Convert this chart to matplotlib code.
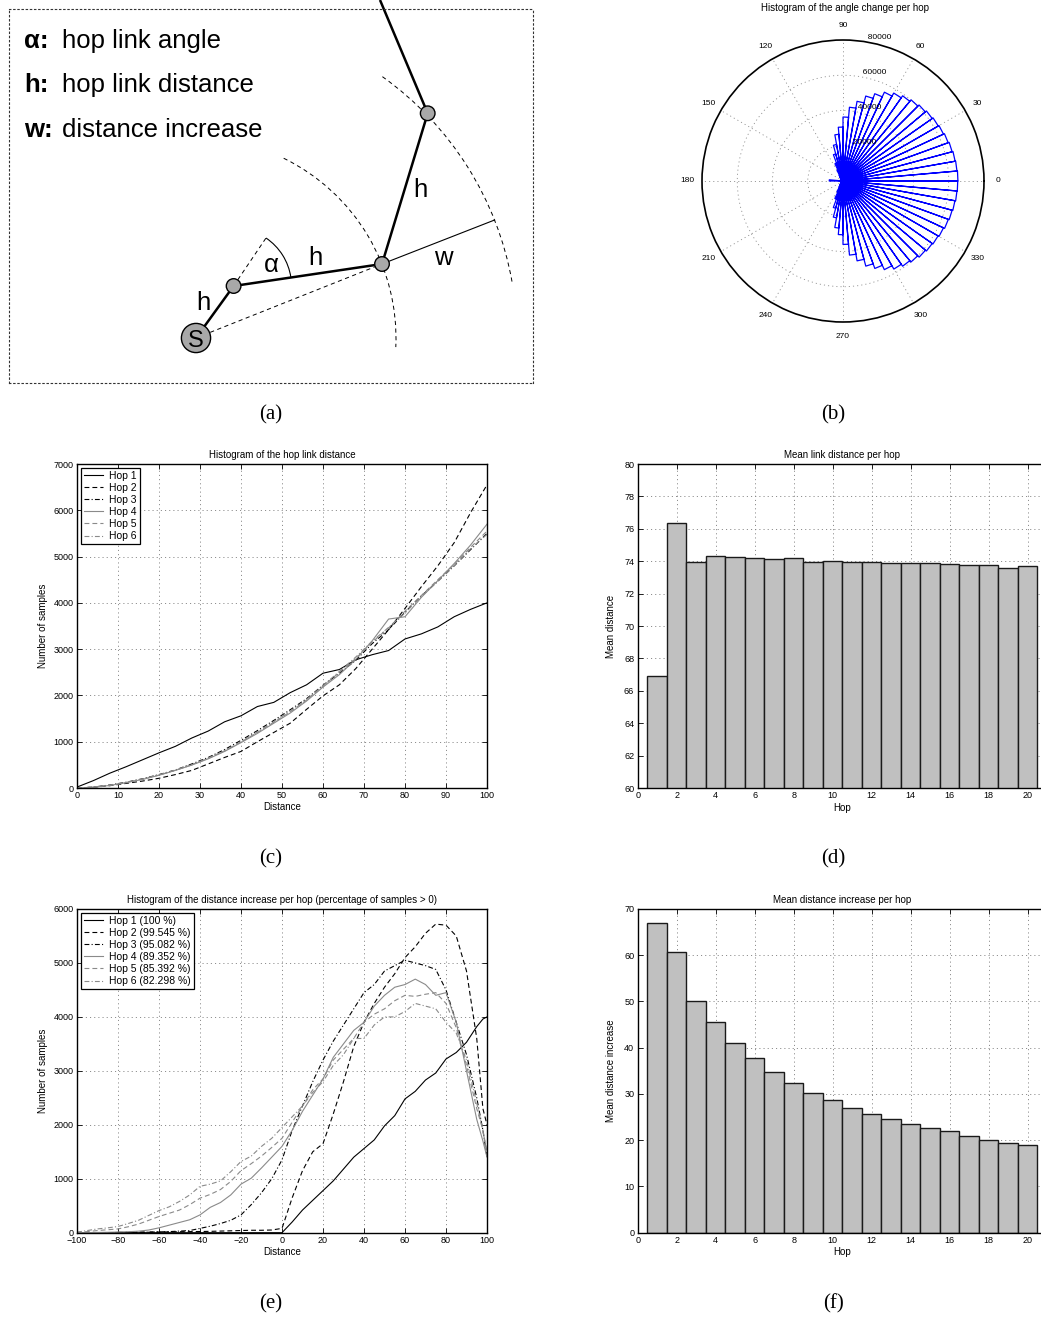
import matplotlib
matplotlib.use('Agg')
import matplotlib.pyplot as plt
import numpy as np
from matplotlib.patches import Circle, Arc

plt.rcParams['font.family'] = ['Liberation Sans', 'DejaVu Sans']
plt.rcParams['lines.scale_dashes'] = False

# ---------------- data ----------------
# (a) sketch geometry, in pixels of the sketch box
NODE_X = [196, 233.6, 382, 427.7]      # S, hop1, hop2, hop3
NODE_Y = [338, 286, 264, 113.3]
NODE_R = [14.6, 7.3, 7.3, 7.3]
LINK_EXIT = (380, 0)                   # last link leaves the box at the top
ALPHA_TIP = (266, 238)                 # end of the dashed prolongation at hop1
W_TIP = (494.6, 220)                   # end of the distance increase line
RING_R = [200, 321]                    # dashed rings around S
RING_SPAN = [(-64, 2.6), (-54.5, -9.9)]
LEGEND_KEYS = ['α:', 'h:', 'w:']
LEGEND_TEXT = ['hop link angle', 'hop link distance', 'distance increase']
LEGEND_BASE = [48, 92, 137]
LABELS = ['h', 'α', 'h', 'h', 'w']
LABEL_X = [203, 271, 315, 420, 443]
LABEL_Y = [310, 272, 265, 197, 265]

# (b) rose histogram, 72 bins of 5 degrees starting at 0
ROSE_COUNTS = [65200, 64900, 64600, 64100, 63500, 62900, 62400, 61800, 61000, 60100,
               59000, 57600, 55600, 52700, 49900, 45900, 42000, 36300, 30600, 26600,
               21000, 15900, 10800, 6800, 4000, 2800, 2000, 1600, 1300, 1100,
               1000, 1000, 1100, 1300, 1800, 7800,
               1800, 1300, 1100, 1000, 1000, 1000, 1100, 1300, 1600, 2000,
               2800, 4100, 6900, 10900, 16000, 21200, 26800, 30500, 36000, 42200,
               46000, 50000, 52800, 55500, 57700, 59000, 60000, 61100, 61800, 62300,
               62900, 63600, 64100, 64500, 64900, 65100]

# (c) histogram of the hop link distance
DIST_C = [0, 4, 8, 12, 16, 20, 24, 28, 32, 36, 40, 44, 48, 52, 56, 60, 64, 68, 72, 76,
          80, 84, 88, 92, 96, 100]
LINK_H1 = [20, 160, 320, 460, 610, 760, 900, 1080, 1230, 1430, 1560, 1760, 1850, 2060,
           2230, 2480, 2560, 2770, 2880, 2970, 3220, 3330, 3480, 3700, 3860, 4000]
LINK_H2 = [0, 15, 50, 100, 150, 210, 290, 380, 520, 660, 790, 1000, 1200, 1400, 1700,
           1990, 2230, 2580, 3000, 3420, 3880, 4350, 4800, 5300, 5950, 6550]
LINK_H3 = [0, 20, 65, 125, 200, 290, 390, 520, 660, 830, 1030, 1240, 1460, 1690, 1930,
           2220, 2480, 2760, 3120, 3420, 3800, 4150, 4470, 4800, 5150, 5500]
LINK_H4 = [0, 15, 55, 115, 185, 275, 380, 495, 630, 790, 980, 1180, 1400, 1620, 1880,
           2180, 2450, 2780, 3180, 3650, 3700, 4120, 4480, 4850, 5250, 5700]
LINK_H5 = [0, 18, 58, 118, 190, 280, 385, 505, 645, 805, 995, 1200, 1420, 1645, 1900,
           2200, 2500, 2800, 3150, 3460, 3820, 4160, 4500, 4830, 5200, 5550]
LINK_H6 = [0, 17, 60, 120, 195, 285, 385, 500, 640, 800, 1000, 1210, 1430, 1660, 1910,
           2210, 2520, 2830, 3170, 3470, 3780, 4140, 4460, 4800, 5170, 5480]
LINK_NAMES = ['Hop 1', 'Hop 2', 'Hop 3', 'Hop 4', 'Hop 5', 'Hop 6']

# (d) mean link distance per hop
HOPS = [1, 2, 3, 4, 5, 6, 7, 8, 9, 10, 11, 12, 13, 14, 15, 16, 17, 18, 19, 20]
MEAN_LINK = [66.9, 76.33, 73.94, 74.3, 74.25, 74.18, 74.12, 74.18, 73.94, 74.02,
             73.94, 73.92, 73.86, 73.88, 73.88, 73.81, 73.77, 73.79, 73.61, 73.69]

# (e) histogram of the distance increase per hop
DIST_E = [-100, -95, -90, -85, -80, -75, -70, -65, -60, -55, -50, -45, -40, -35, -30,
          -25, -20, -15, -10, -5, 0, 5, 10, 15, 20, 25, 30, 35, 40, 45, 50, 55, 60,
          65, 70, 75, 80, 85, 90, 95, 98, 100]
INC_H1 = [0, 0, 0, 0, 0, 0, 0, 0, 0, 0, 0, 0, 0, 0, 0, 0, 0, 0, 0, 0,
          0, 200, 420, 600, 780, 960, 1180, 1400, 1560, 1720, 1980, 2170, 2480, 2620,
          2830, 2960, 3220, 3340, 3530, 3820, 3960, 4000]
INC_H2 = [0, 0, 0, 0, 5, 5, 8, 10, 12, 15, 18, 20, 22, 25, 30, 35, 40, 45, 45, 50,
          80, 650, 1150, 1500, 1650, 2200, 2800, 3450, 3900, 4250, 4550, 4800, 5100,
          5300, 5550, 5720, 5700, 5500, 4850, 3600, 2300, 2000]
INC_H3 = [0, 0, 0, 0, 5, 8, 10, 12, 15, 20, 30, 40, 80, 120, 170, 230, 330, 520, 740,
          1000, 1350, 1900, 2350, 2800, 3200, 3550, 3850, 4150, 4450, 4600, 4850, 4950,
          5050, 5000, 4950, 4880, 4500, 3900, 3300, 2500, 1900, 1400]
INC_H4 = [0, 2, 5, 8, 12, 18, 28, 50, 90, 140, 190, 240, 330, 470, 560, 700, 900, 1010,
          1200, 1400, 1600, 1900, 2250, 2550, 2850, 3250, 3500, 3750, 3900, 4200, 4400,
          4550, 4600, 4700, 4600, 4400, 4450, 3900, 3000, 2100, 1700, 1400]
INC_H5 = [5, 20, 40, 55, 70, 110, 160, 230, 300, 360, 420, 520, 640, 710, 800, 950, 1150,
          1280, 1420, 1580, 1750, 2050, 2350, 2650, 2850, 3200, 3400, 3600, 3900, 4050,
          4150, 4300, 4400, 4380, 4420, 4450, 4250, 3800, 3100, 2300, 1900, 1500]
INC_H6 = [10, 40, 70, 90, 115, 170, 230, 320, 410, 480, 580, 700, 860, 900, 960, 1130,
          1320, 1420, 1600, 1750, 1950, 2150, 2350, 2600, 2800, 3100, 3300, 3600, 3600,
          3850, 4000, 4000, 4100, 4250, 4200, 4150, 3900, 3700, 3200, 2400, 1900, 1450]
INC_NAMES = ['Hop 1 (100 %)', 'Hop 2 (99.545 %)', 'Hop 3 (95.082 %)',
             'Hop 4 (89.352 %)', 'Hop 5 (85.392 %)', 'Hop 6 (82.298 %)']

# (f) mean distance increase per hop
MEAN_INC = [66.9, 60.7, 50.2, 45.5, 41.1, 37.7, 34.65, 32.3, 30.2, 28.6,
            26.9, 25.6, 24.5, 23.5, 22.6, 21.9, 21.0, 20.15, 19.5, 18.9]

# ---------------- styles ----------------
GRAY = '#8a8a8a'
STYLES = [dict(color='black', ls='-'),
          dict(color='black', ls=(0, (3.5, 2.2))),
          dict(color='black', ls=(0, (3.5, 1.6, 0.8, 1.6))),
          dict(color=GRAY, ls='-'),
          dict(color=GRAY, ls=(0, (3.5, 2.2))),
          dict(color=GRAY, ls=(0, (3.5, 1.6, 0.8, 1.6)))]
GRID_LS = (0, (0.8, 2.2))

W, H = 1041, 1319
fig = plt.figure(figsize=(W / 100, H / 100), dpi=100)


def px_box(left, top, right, bottom):
    return [left / W, 1 - bottom / H, (right - left) / W, (bottom - top) / H]


def matlab_axes(ax, right=True):
    ax.tick_params(direction='in', top=True, right=right, length=3.5, width=0.6,
                   labelsize=6.5, pad=2.5)
    for s in ax.spines.values():
        s.set_linewidth(1.0)
    ax.grid(True, color='#7a7a7a', ls=GRID_LS, lw=0.6)


def matlab_legend(ax):
    leg = ax.legend(loc='upper left', fontsize=7.5, fancybox=False, framealpha=1,
                    borderaxespad=0.35, handlelength=1.85, labelspacing=0.2,
                    borderpad=0.3, handletextpad=0.55)
    leg.get_frame().set_edgecolor('black')
    leg.get_frame().set_linewidth(0.9)


# ---------------- (a) sketch ----------------
ax = fig.add_axes(px_box(9, 9, 533, 383))
ax.set_xlim(9, 533)
ax.set_ylim(383, 9)
ax.set_xticks([])
ax.set_yticks([])
for s in ax.spines.values():
    s.set_linestyle((0, (1, 2)))
    s.set_linewidth(0.8)
    s.set_color('#333333')

dash = (0, (3, 2.5))
# dashed rings around the source
for rr, (t1, t2) in zip(RING_R, RING_SPAN):
    ax.add_patch(Arc((NODE_X[0], NODE_Y[0]), 2 * rr, 2 * rr, theta1=t1, theta2=t2,
                     lw=0.7, ls=dash, color='black'))
# dashed helper lines
ax.plot([NODE_X[0], NODE_X[2]], [NODE_Y[0], NODE_Y[2]], color='black', lw=0.7, ls=dash)
ax.plot([NODE_X[1], ALPHA_TIP[0]], [NODE_Y[1], ALPHA_TIP[1]], color='black', lw=0.7, ls=dash)
# angle arc
a1 = np.degrees(np.arctan2(ALPHA_TIP[1] - NODE_Y[1], ALPHA_TIP[0] - NODE_X[1]))
a2 = np.degrees(np.arctan2(NODE_Y[2] - NODE_Y[1], NODE_X[2] - NODE_X[1]))
ra = np.hypot(ALPHA_TIP[0] - NODE_X[1], ALPHA_TIP[1] - NODE_Y[1])
ax.add_patch(Arc((NODE_X[1], NODE_Y[1]), 2 * ra, 2 * ra, theta1=a1, theta2=a2,
                 lw=0.8, color='black'))
# distance increase line
ax.plot([NODE_X[2], W_TIP[0]], [NODE_Y[2], W_TIP[1]], color='black', lw=0.8)
# hop links
ax.plot(NODE_X + [LINK_EXIT[0]], NODE_Y + [LINK_EXIT[1]], color='black', lw=1.8,
        clip_on=False, solid_capstyle='butt')
for x, y, r in zip(NODE_X, NODE_Y, NODE_R):
    ax.add_patch(Circle((x, y), r, facecolor='#a8a8a8', edgecolor='black', lw=1.0, zorder=5))
ax.text(NODE_X[0], NODE_Y[0] + 9, 'S', fontsize=17, ha='center', va='baseline', zorder=6)
for t, x, y in zip(LABELS, LABEL_X, LABEL_Y):
    ax.text(x, y, t, fontsize=18.5, ha='center', va='baseline')
for k, t, y in zip(LEGEND_KEYS, LEGEND_TEXT, LEGEND_BASE):
    ax.text(24, y, k, fontsize=18.5, fontweight='bold', va='baseline')
    ax.text(62, y, t, fontsize=18.5, va='baseline')

# ---------------- (b) rose ----------------
axp = fig.add_axes(px_box(702, 40, 984, 322), projection='polar')
edges = np.deg2rad(np.arange(0, 361, 5))
th, rr = [], []
for k, c in enumerate(ROSE_COUNTS):
    th += [edges[k], edges[k], edges[k + 1], edges[k + 1]]
    rr += [0, c, c, 0]
axp.plot(th, rr, color='blue', lw=0.9)
axp.set_ylim(0, 80000)
axp.set_xticks(np.deg2rad(np.arange(0, 360, 30)))
axp.set_xticklabels([])
axp.set_yticks([20000, 40000, 60000])
axp.set_yticklabels([])
axp.grid(True, color='#8a8a8a', ls=GRID_LS, lw=0.6)
axp.spines['polar'].set_linewidth(1.2)
for a in range(0, 360, 30):
    axp.text(np.deg2rad(a), 88000, str(a), fontsize=6, ha='center', va='center')
for v in [20000, 40000, 60000, 80000]:
    axp.text(np.deg2rad(82), v, '  %d' % v, fontsize=6, ha='left', va='bottom')
fig.text(845 / W, 1 - 8 / H, 'Histogram of the angle change per hop', fontsize=7,
         ha='center', va='center')

# ---------------- (c) link distance histogram ----------------
axc = fig.add_axes(px_box(77, 464, 487, 788))
for vals, name, st in zip([LINK_H1, LINK_H2, LINK_H3, LINK_H4, LINK_H5, LINK_H6],
                          LINK_NAMES, STYLES):
    axc.plot(DIST_C, vals, lw=0.8, label=name, **st)
axc.set_xlim(0, 100)
axc.set_ylim(0, 7000)
axc.set_xticks(range(0, 101, 10))
axc.set_yticks(range(0, 7001, 1000))
matlab_axes(axc)
axc.set_title('Histogram of the hop link distance', fontsize=7, pad=4)
axc.set_xlabel('Distance', fontsize=7, labelpad=1)
axc.set_ylabel('Number of samples', fontsize=7, labelpad=4)
matlab_legend(axc)

# ---------------- (d) mean link distance ----------------
axd = fig.add_axes(px_box(637.7, 464, 1041, 788))
axd.bar(HOPS, MEAN_LINK, width=1.0, color='#c0c0c0', edgecolor='#1a1a1a', lw=1.0)
axd.set_axisbelow(True)
axd.set_xlim(0, 20.68)
axd.set_ylim(60, 80)
axd.set_xticks(range(0, 21, 2))
axd.set_yticks(range(60, 81, 2))
matlab_axes(axd, right=False)
axd.spines['right'].set_visible(False)
axd.set_title('Mean link distance per hop', fontsize=7, pad=4, x=0.507)
axd.set_xlabel('Hop', fontsize=7, labelpad=1)
axd.xaxis.set_label_coords(0.507, -0.045)
axd.set_ylabel('Mean distance', fontsize=7, labelpad=6)

# ---------------- (e) distance increase histogram ----------------
axe = fig.add_axes(px_box(77, 909, 487, 1232.7))
for vals, name, st in zip([INC_H1, INC_H2, INC_H3, INC_H4, INC_H5, INC_H6],
                          INC_NAMES, STYLES):
    axe.plot(DIST_E, vals, lw=0.8, label=name, **st)
axe.set_xlim(-100, 100)
axe.set_ylim(0, 6000)
axe.set_xticks(range(-100, 101, 20))
axe.set_yticks(range(0, 6001, 1000))
matlab_axes(axe)
axe.set_title('Histogram of the distance increase per hop (percentage of samples > 0)',
              fontsize=7, pad=4)
axe.set_xlabel('Distance', fontsize=7, labelpad=1)
axe.set_ylabel('Number of samples', fontsize=7, labelpad=4)
matlab_legend(axe)

# ---------------- (f) mean distance increase ----------------
axf = fig.add_axes(px_box(637.7, 909, 1041, 1232.7))
axf.bar(HOPS, MEAN_INC, width=1.0, color='#c0c0c0', edgecolor='#1a1a1a', lw=1.0)
axf.set_axisbelow(True)
axf.set_xlim(0, 20.68)
axf.set_ylim(0, 70)
axf.set_xticks(range(0, 21, 2))
axf.set_yticks(range(0, 71, 10))
matlab_axes(axf, right=False)
axf.spines['right'].set_visible(False)
axf.set_title('Mean distance increase per hop', fontsize=7, pad=4, x=0.507)
axf.set_xlabel('Hop', fontsize=7, labelpad=1)
axf.xaxis.set_label_coords(0.507, -0.045)
axf.set_ylabel('Mean distance increase', fontsize=7, labelpad=6)

# ---------------- captions ----------------
for lab, x, y in [('(a)', 271, 415), ('(b)', 833, 415), ('(c)', 271, 859),
                  ('(d)', 833, 859), ('(e)', 271, 1304), ('(f)', 833, 1304)]:
    fig.text(x / W, 1 - y / H, lab, fontsize=15, family='Liberation Serif',
             ha='center', va='center')

fig.savefig('out.png', dpi=100)
